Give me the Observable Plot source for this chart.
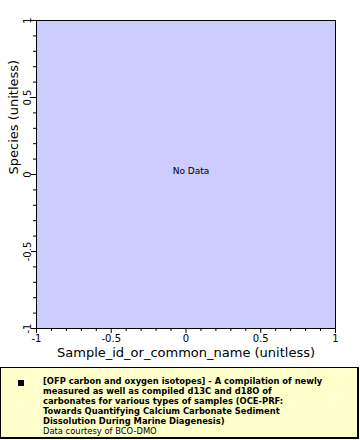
<!DOCTYPE html>
<html>
<head>
<meta charset="utf-8">
<script src="https://cdn.jsdelivr.net/npm/d3@7"></script>
<script src="https://cdn.jsdelivr.net/npm/@observablehq/plot@0.6"></script>
<style>
  html, body { margin: 0; padding: 0; background: #fff; }
  #chart { width: 360px; height: 440px; position: relative; font-family: "DejaVu Sans", sans-serif; }
  #legend {
    position: absolute; left: 0; top: 367px; width: 356px; height: 69px;
    background: #ffffcc; border: 1px solid #000; border-right-width: 2px; border-bottom-width: 2px;
    box-sizing: content-box;
  }
  #legend .mark { position: absolute; left: 17px; top: 12px; width: 6px; height: 6px; background: #000; }
  #legend .txt { position: absolute; left: 42px; top: 8px; font-family: "DejaVu Sans Condensed", "DejaVu Sans", sans-serif; font-size: 9.3px; line-height: 10px; color: #000; white-space: nowrap; }
  #legend .txt b { font-weight: bold; }
</style>
</head>
<body>
<div id="chart"></div>
<script>
const xDomain = [-1, 1];
const yDomain = [-1, 1];
const majorTicks = [-1, -0.5, 0, 0.5, 1];
const minorTicks = [-0.9, -0.8, -0.7, -0.6, -0.4, -0.3, -0.2, -0.1, 0.1, 0.2, 0.3, 0.4, 0.6, 0.7, 0.8, 0.9];
const xLabel = "Sample_id_or_common_name (unitless)";
const yLabel = "Species (unitless)";
const noDataText = ["No Data"];
const legendTitleLines = [
  "[OFP carbon and oxygen isotopes] - A compilation of newly",
  "measured as well as compiled d13C and d18O of",
  "carbonates for various types of samples (OCE-PRF:",
  "Towards Quantifying Calcium Carbonate Sediment",
  "Dissolution During Marine Diagenesis)"
];
const legendCredit = "Data courtesy of BCO-DMO";

const fmt = d => (d === 0 ? "0" : String(d));
const blank = () => "";

const plot = Plot.plot({
  width: 360,
  height: 366,
  marginLeft: 36,
  marginRight: 25,
  marginTop: 20,
  marginBottom: 38,
  style: { fontFamily: "DejaVu Sans, sans-serif", fontSize: "10px", color: "#000", background: "transparent" },
  x: { domain: xDomain },
  y: { domain: yDomain },
  marks: [
    Plot.frame({ fill: "#ccccff", stroke: "#000", strokeWidth: 1 }),
    Plot.axisX(majorTicks, { tickSize: 5, tickFormat: fmt, fontSize: 10, tickPadding: 1, label: null }),
    Plot.axisX(minorTicks, { tickSize: 3, tickFormat: blank, label: null }),
    Plot.axisY(majorTicks, { tickSize: 5, tickFormat: blank, label: null }),
    Plot.axisY(minorTicks, { tickSize: 3, tickFormat: blank, label: null }),
    Plot.text(majorTicks, { x: () => -1, y: d => d, text: fmt, rotate: -90, fontSize: 10, dx: -9, textAnchor: "middle", fill: "#000" }),
    Plot.text(noDataText, { frameAnchor: "middle", text: d => d, fontSize: 9, dx: 5, dy: -3, fill: "#000" }),
    Plot.text([xLabel], { frameAnchor: "bottom", text: d => d, fontSize: 13, dy: 28, fill: "#000" }),
    Plot.text([yLabel], { frameAnchor: "left", text: d => d, fontSize: 13, rotate: -90, dx: -23, fill: "#000" })
  ]
});
document.getElementById("chart").appendChild(plot);

const legend = document.createElement("div");
legend.id = "legend";
const mark = document.createElement("div");
mark.className = "mark";
legend.appendChild(mark);
const txt = document.createElement("div");
txt.className = "txt";
const b = document.createElement("b");
b.innerHTML = legendTitleLines.join("<br>");
txt.appendChild(b);
txt.appendChild(document.createElement("br"));
txt.appendChild(document.createTextNode(legendCredit));
legend.appendChild(txt);
document.getElementById("chart").appendChild(legend);
</script>
</body>
</html>
